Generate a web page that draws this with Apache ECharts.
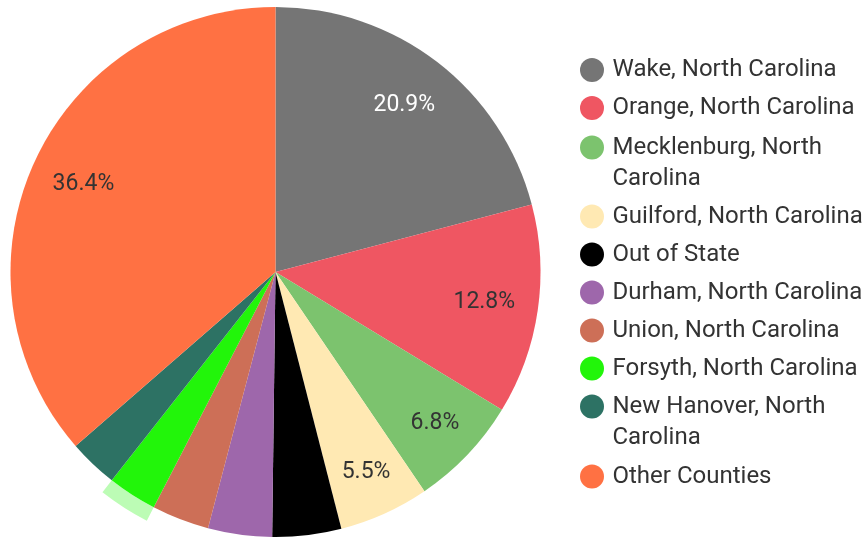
<!DOCTYPE html>
<html>
<head>
<meta charset="utf-8">
<script src="https://cdn.jsdelivr.net/npm/echarts@6/dist/echarts.min.js"></script>
<style>
html,body{margin:0;padding:0;background:#fff;}
#main{width:863px;height:540px;}
</style>
</head>
<body>
<div id="main"></div>
<script>
const categories = [
  'Wake, North Carolina',
  'Orange, North Carolina',
  'Mecklenburg, North Carolina',
  'Guilford, North Carolina',
  'Out of State',
  'Durham, North Carolina',
  'Union, North Carolina',
  'Forsyth, North Carolina',
  'New Hanover, North Carolina',
  'Other Counties'
];
const values = [20.9, 12.8, 6.8, 5.5, 4.2, 3.9, 3.5, 3.0, 3.0, 36.4];
const colors = ['#757575', '#EF5662', '#7CC36E', '#FFE9B3', '#000000', '#9E67AB', '#CD6F57', '#22F50A', '#2D7264', '#FF7143'];
const labelColors = ['#ffffff', '#333333', '#333333', '#333333', '#333333', '#333333', '#333333', '#333333', '#333333', '#333333'];
const legendLabels = [
  'Wake, North Carolina',
  'Orange, North Carolina',
  '\nMecklenburg, North\nCarolina',
  'Guilford, North Carolina',
  'Out of State',
  'Durham, North Carolina',
  'Union, North Carolina',
  'Forsyth, North Carolina',
  '\nNew Hanover, North\nCarolina',
  'Other Counties'
];
const highlighted = 'Forsyth, North Carolina';

const FONT = 'Roboto';
const CX = 275.5, CY = 272, R = 265;

const pieData = categories.map((c, i) => ({
  name: c, value: values[i], itemStyle: { color: colors[i] }
}));
const labelData = categories.map((c, i) => ({
  name: c, value: values[i], itemStyle: { color: 'rgba(0,0,0,0)' },
  label: { color: labelColors[i] }
}));
const ringData = categories.map((c, i) => ({
  name: c, value: values[i],
  itemStyle: { color: c === highlighted ? 'rgba(34,245,10,0.3)' : 'rgba(0,0,0,0)' }
}));

const legendMap = {};
categories.forEach((c, i) => legendMap[c] = legendLabels[i]);

function mkLegend(names, top) {
  return {
    orient: 'vertical',
    left: 575,
    top: top,
    itemWidth: 31,
    itemHeight: 24,
    itemGap: 7,
    icon: 'circle',
    selectedMode: false,
    data: names,
    formatter: n => legendMap[n],
    textStyle: { fontFamily: FONT, fontSize: 24, color: '#333333', lineHeight: 31 }
  };
}

function labelSeries(inner, lo, hi) {
  return {
    type: 'pie',
    center: [CX, CY],
    radius: [inner, R],
    startAngle: 90,
    clockwise: true,
    silent: true,
    itemStyle: { borderWidth: 0 },
    labelLine: { show: false },
    label: {
      show: true,
      position: 'inside',
      fontFamily: FONT,
      fontSize: 23,
      formatter: p => (p.percent >= lo && p.percent < hi) ? p.percent.toFixed(1) + '%' : ''
    },
    data: labelData
  };
}

const chart = echarts.init(document.getElementById('main'), null, { renderer: 'canvas' });
chart.setOption({
  animation: false,
  legend: [
    mkLegend(categories.slice(0, 2), 49.5),
    mkLegend(categories.slice(2, 3), 96),
    mkLegend(categories.slice(3, 8), 196),
    mkLegend(categories.slice(8, 9), 355),
    mkLegend(categories.slice(9, 10), 456)
  ],
  series: [
    {
      type: 'pie',
      center: [CX, CY],
      radius: [0, R],
      startAngle: 90,
      clockwise: true,
      silent: true,
      label: { show: false },
      labelLine: { show: false },
      itemStyle: { borderWidth: 0 },
      data: pieData
    },
    {
      type: 'pie',
      center: [CX, CY],
      radius: [R, R + 15],
      startAngle: 90,
      clockwise: true,
      silent: true,
      label: { show: false },
      labelLine: { show: false },
      itemStyle: { borderWidth: 0 },
      data: ringData
    },
    labelSeries(151, 10, 101),
    labelSeries(169, 5, 10)
  ]
});
</script>
</body>
</html>
